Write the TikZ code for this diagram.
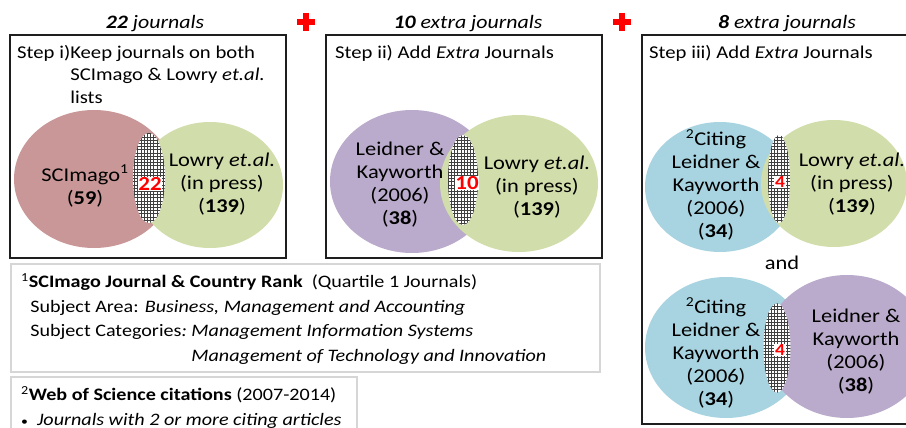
\documentclass[tikz,border=0pt]{standalone}
\usepackage{fontspec}
\setmainfont{Carlito}[FakeStretch=1.15]
\definecolor{vnpink}{HTML}{C99797}
\definecolor{vngreen}{HTML}{D1DDAA}
\definecolor{vnpurple}{HTML}{BAAACB}
\definecolor{vnblue}{HTML}{A7D4E0}
\definecolor{vnred}{HTML}{FF0000}
\definecolor{vndark}{HTML}{1E1E1E}
\usepackage{tikz}
\usetikzlibrary{shapes.geometric, patterns}

\pgfdeclarepatternformonly{finegrid}{\pgfqpoint{-1pt}{-1pt}}{\pgfqpoint{4pt}{4pt}}%
  {\pgfqpoint{3.2pt}{3.2pt}}{%
  \pgfsetlinewidth{0.45pt}
  \pgfpathmoveto{\pgfqpoint{-0.5pt}{0pt}}\pgfpathlineto{\pgfqpoint{3.7pt}{0pt}}
  \pgfpathmoveto{\pgfqpoint{0pt}{-0.5pt}}\pgfpathlineto{\pgfqpoint{0pt}{3.7pt}}
  \pgfusepath{stroke}}

\begin{document}
\begin{tikzpicture}[
  x=1pt, y=-1pt,
  set/.style={ellipse, draw=none, inner sep=0pt},
  lens/.style={ellipse, draw=none, inner sep=0pt,
    fill=white, postaction={pattern=finegrid, pattern color=black!75}},
  count/.style={fill=white, inner sep=0.6pt, text=vnred,
    font=\fontsize{20}{22}\selectfont\bfseries},
  lbl/.style={align=center, inner sep=0pt,
    font=\fontsize{19.5}{23}\selectfont},
  ttl/.style={inner sep=0pt, font=\fontsize{19}{22}\selectfont\itshape},
  steptxt/.style={anchor=base west, inner sep=0pt,
    font=\fontsize{18}{22.5}\selectfont},
  notetxt/.style={anchor=base west, inner sep=0pt,
    font=\fontsize{17.5}{24.5}\selectfont},
  stepbox/.style={draw=vndark, line width=1.8pt},
  notebox/.style={draw=black!16, line width=1.2pt},
  plus/.style={vnred, line width=6pt}
]
  \useasboundingbox (0,0) rectangle (906,428);

  % step i
  \node[ttl] (ttlA) at (155,24) {\textbf{22} journals};
  \draw[stepbox] (10,35) rectangle (286,258);
  \node[steptxt] (stepA) at (17,58.5)
    {\begin{tabular}[t]{@{}l@{}l@{}}Step i)&Keep journals on both\\
      &SCImago \& Lowry \textit{et.al.}\\ &lists\end{tabular}};
  \node[set, fill=vnpink, minimum width=160pt, minimum height=138pt]
    (scimago) at (94,179) {};
  \node[set, fill=vngreen, minimum width=146pt, minimum height=126pt]
    (lowryA) at (210,185) {};
  \node[lens, minimum width=32pt, minimum height=90pt] (overlapA) at (149,178) {};
  \node[count] (countA) at (150,184) {22};
  \node[lbl] (lblScimago) at (85,186) {SCImago\textsuperscript{1}\\(\textbf{59})};
  \node[lbl] (lblLowryA) at (222,184)
    {Lowry \textit{et.al.}\\(in press)\\(\textbf{139})};

  \draw[plus] (297,22) -- (315,22) (306,13) -- (306,31);

  % step ii
  \node[ttl] (ttlB) at (468,24) {\textbf{10} extra journals};
  \draw[stepbox] (326,35) rectangle (602,258);
  \node[steptxt] (stepB) at (335,58.5) {Step ii) Add \textit{Extra} Journals};
  \node[set, fill=vnpurple, minimum width=164pt, minimum height=143pt]
    (leidnerA) at (412,181.5) {};
  \node[set, fill=vngreen, minimum width=158pt, minimum height=137pt]
    (lowryB) at (519,183.5) {};
  \node[lens, minimum width=30pt, minimum height=90pt] (overlapB) at (463,180) {};
  \node[count] (countB) at (467,183) {10};
  \node[lbl] (lblLeidnerA) at (400,185)
    {Leidner \&\\Kayworth\\(2006)\\(\textbf{38})};
  \node[lbl] (lblLowryB) at (537,187)
    {Lowry \textit{et.al.}\\(in press)\\(\textbf{139})};

  \draw[plus] (613,22) -- (631,22) (622,13) -- (622,31);

  % step iii
  \node[ttl] (ttlC) at (787,24) {\textbf{8} extra journals};
  \draw[stepbox] (642,35) rectangle (912,424);
  \node[steptxt] (stepC) at (649,58.5) {Step iii) Add \textit{Extra} Journals};
  \node[set, fill=vnblue, minimum width=150pt, minimum height=130pt]
    (citingA) at (720,187) {};
  \node[set, fill=vngreen, minimum width=146pt, minimum height=127pt]
    (lowryC) at (834,183.5) {};
  \node[lens, minimum width=22pt, minimum height=88pt] (overlapC) at (779,179) {};
  \node[count, font=\fontsize{17}{20}\selectfont\bfseries] (countC) at (780,182) {4};
  \node[lbl] (lblCitingA) at (716,185)
    {\textsuperscript{2}Citing\\Leidner \&\\Kayworth\\(2006)\\(\textbf{34})};
  \node[lbl] (lblLowryC) at (852,184)
    {Lowry \textit{et.al.}\\(in press)\\(\textbf{139})};

  \node[lbl] (andC) at (782,263) {and};

  \node[set, fill=vnblue, minimum width=162pt, minimum height=141pt]
    (citingB) at (726,347.5) {};
  \node[set, fill=vnpurple, minimum width=164pt, minimum height=143pt]
    (leidnerB) at (847,346.5) {};
  \node[lens, minimum width=27pt, minimum height=89pt] (overlapD) at (777,348) {};
  \node[count, font=\fontsize{17}{20}\selectfont\bfseries] (countD) at (780,350) {4};
  \node[lbl] (lblCitingB) at (716,353)
    {\textsuperscript{2}Citing\\Leidner \&\\Kayworth\\(2006)\\(\textbf{34})};
  \node[lbl] (lblLeidnerB) at (856,352)
    {Leidner \&\\Kayworth\\(2006)\\(\textbf{38})};

  % footnotes
  \draw[notebox] (11,264) rectangle (600,372);
  \node[notetxt] (noteA) at (21,287.5)
    {\begin{tabular}[t]{@{}l@{\ }l@{}}
      \multicolumn{2}{@{}l@{}}{\textsuperscript{1}\textbf{SCImago Journal \& Country Rank}\ \ (Quartile 1 Journals)}\\
      \multicolumn{2}{@{}l@{}}{\ \ Subject Area: \textit{Business, Management and Accounting}}\\
      \ \ Subject Categories\textit{:}&\textit{Management Information Systems}\\
      &\textit{Management of Technology and Innovation}
    \end{tabular}};
  \draw[notebox] (11,377) rectangle (357,440);
  \node[notetxt] (noteB) at (21,400.5)
    {\begin{tabular}[t]{@{}l@{}}
      \textsuperscript{2}\textbf{Web of Science citations} (2007-2014)\\
      {\fontsize{12}{12}\selectfont\textbullet}\hspace{9pt}\textit{Journals with 2 or more citing articles}
    \end{tabular}};
\end{tikzpicture}
\end{document}
